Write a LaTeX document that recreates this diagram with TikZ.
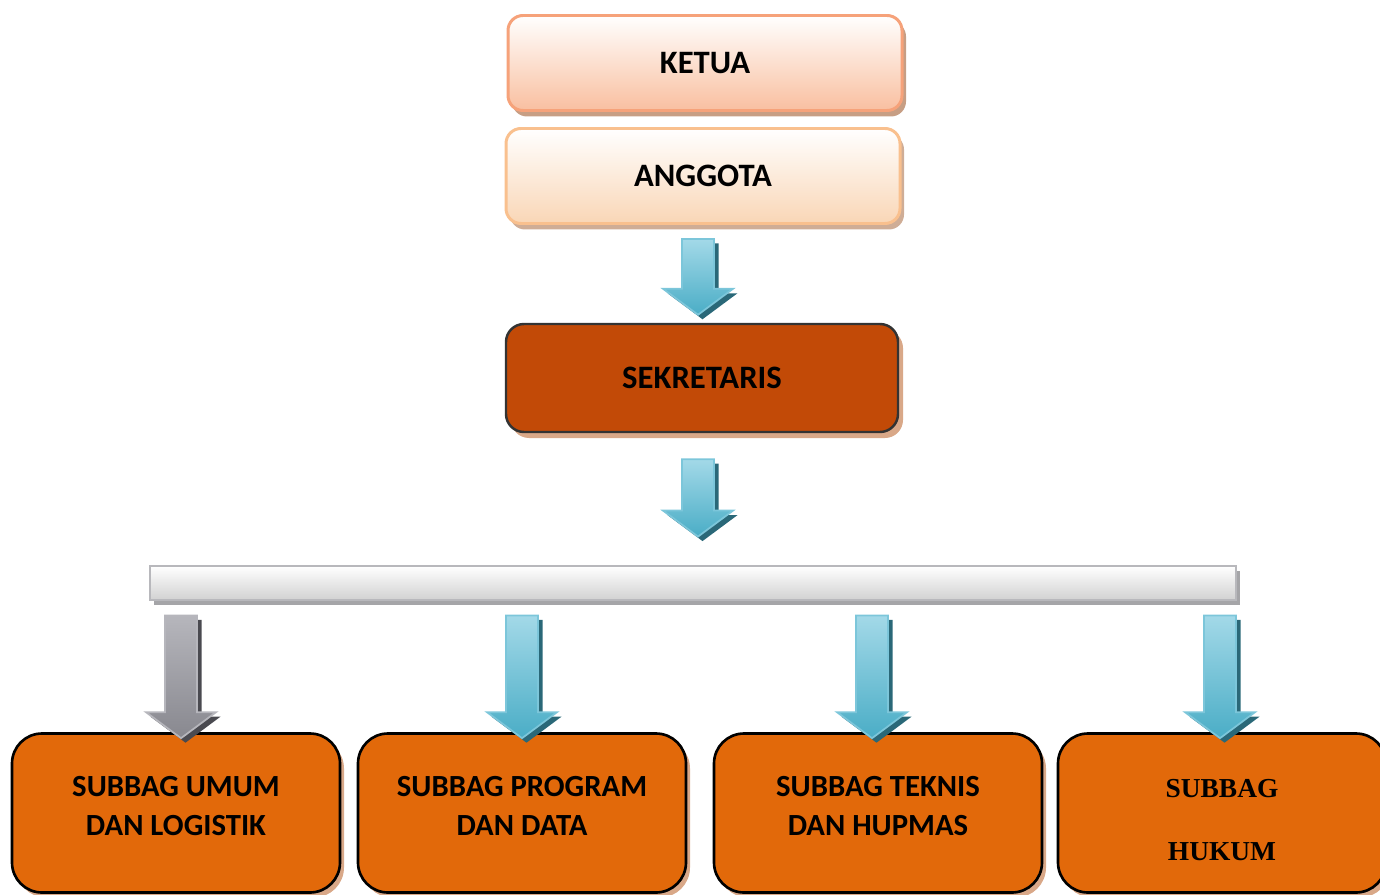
\documentclass[tikz,border=0pt]{standalone}
\usepackage{fontspec}
\setmainfont{Carlito}
\newfontfamily\hukumfont{Liberation Serif}
\usetikzlibrary{shadows,calc}

\definecolor{peachtop}{HTML}{F9BFA0}
\definecolor{peachline}{HTML}{F6A27A}
\definecolor{creamtop}{HTML}{F9D6B6}
\definecolor{creamline}{HTML}{F9C08E}
\definecolor{boxshadow}{HTML}{C79E84}
\definecolor{rust}{HTML}{C24A07}
\definecolor{orangebox}{HTML}{E2690A}
\definecolor{orangeshadow}{HTML}{D9A888}
\definecolor{barline}{HTML}{B8B8BC}
\definecolor{barshadow}{HTML}{A5A5A8}
\definecolor{bluetop}{HTML}{A3D9E8}
\definecolor{bluebot}{HTML}{4AADC6}
\definecolor{blueline}{HTML}{7CC6DA}
\definecolor{blueshadow}{HTML}{2A6878}
\definecolor{greytop}{HTML}{B6B6BC}
\definecolor{greybot}{HTML}{88888F}
\definecolor{greyshadow}{HTML}{4A4A50}

\tikzstyle{topbox}=[rectangle, rounded corners=0.15cm, minimum width=3.94cm, minimum height=0.95cm, line width=0.85pt, font=\fontsize{9.3}{11}\selectfont\bfseries]
\tikzstyle{ketuabox}=[topbox, draw=peachline, top color=white, bottom color=peachtop, drop shadow={shadow xshift=0.04cm, shadow yshift=-0.06cm, fill=boxshadow, opacity=1}]
\tikzstyle{anggotabox}=[topbox, draw=creamline, top color=white, bottom color=creamtop, drop shadow={shadow xshift=0.04cm, shadow yshift=-0.06cm, fill=boxshadow!85, opacity=1}]
\tikzstyle{sekbox}=[rectangle, rounded corners=0.18cm, minimum width=3.92cm, minimum height=1.08cm, fill=rust, draw=black!80, line width=0.7pt, font=\fontsize{9.3}{11}\selectfont\bfseries, drop shadow={shadow xshift=0.05cm, shadow yshift=-0.06cm, fill=orangeshadow, opacity=1}]
\tikzstyle{barbox}=[rectangle, minimum width=10.86cm, minimum height=0.34cm, draw=barline, line width=0.8pt, top color=white, bottom color=black!18, drop shadow={shadow xshift=0.04cm, shadow yshift=-0.05cm, fill=barshadow, opacity=1}]
\tikzstyle{subbox}=[rectangle, rounded corners=0.3cm, minimum width=3.28cm, minimum height=1.59cm, fill=orangebox, draw=black, line width=0.75pt, align=center, font=\fontsize{8.75}{11}\selectfont\bfseries, drop shadow={shadow xshift=0.04cm, shadow yshift=-0.05cm, fill=orangeshadow, opacity=1}]
\tikzstyle{bluearrow}=[shade, top color=bluetop, bottom color=bluebot, draw=blueline, line width=0.5pt]
\tikzstyle{bluearrowshadow}=[fill=blueshadow]
\tikzstyle{greyarrow}=[shade, top color=greytop, bottom color=greybot, draw=greytop, line width=0.5pt]
\tikzstyle{greyarrowshadow}=[fill=greyshadow]

% block arrow from #2 (top of the shaft) down to #3 (the tip), shadow first
\newcommand{\arrowoutline}[5]{%
  \path[#1] let \p1=(#2), \p2=(#3) in
    (\x1-0.16cm+#4,\y1+#5) -- (\x1+0.16cm+#4,\y1+#5) -- (\x1+0.16cm+#4,\y2+0.26cm+#5)
    -- (\x1+0.35cm+#4,\y2+0.26cm+#5) -- (\x1+#4,\y2+#5) -- (\x1-0.35cm+#4,\y2+0.26cm+#5)
    -- (\x1-0.16cm+#4,\y2+0.26cm+#5) -- cycle;}
\newcommand{\blockarrow}[3]{%
  \arrowoutline{#1shadow}{#2}{#3}{0.045cm}{-0.045cm}
  \arrowoutline{#1}{#2}{#3}{0cm}{0cm}}

\begin{document}
\begin{tikzpicture}
    \useasboundingbox (0,0) rectangle (13.8,-8.95);
    \clip (0,0) rectangle (13.8,-8.95);

    \node[ketuabox] (ketua) at (7.05,-0.63) {KETUA};
    \node[anggotabox] (anggota) at (7.03,-1.76) {ANGGOTA};
    \node[sekbox] (sekretaris) at (7.02,-3.78) {SEKRETARIS};
    \node[barbox] (bar) at (6.93,-5.83) {};

    \foreach \x/\name/\txt in {1.76/sub1/{SUBBAG UMUM\\DAN LOGISTIK}, 5.22/sub2/{SUBBAG PROGRAM\\DAN DATA}, 8.78/sub3/{SUBBAG TEKNIS\\DAN HUPMAS}}
        \node[subbox] (\name) at (\x,-8.13) {\txt\\[-0.25cm]\mbox{}};
    \node[subbox, font=\fontsize{7.8}{17.8}\selectfont\hukumfont\bfseries] (sub4) at (12.22,-8.13) {\mbox{}\\[-0.3cm]SUBBAG\\HUKUM};

    % arrows
    \coordinate (a1s) at ([xshift=-0.05cm, yshift=-0.14cm]anggota.south);
    \coordinate (a1e) at ([xshift=-0.05cm, yshift=0.08cm]sekretaris.north);
    \coordinate (a2s) at ([xshift=-0.04cm, yshift=-0.26cm]sekretaris.south);
    \coordinate (a2e) at ([yshift=0.28cm]bar.north -| a2s);
    \blockarrow{bluearrow}{a1s}{a1e}
    \blockarrow{bluearrow}{a2s}{a2e}

    \foreach \name/\dx/\style in {sub1/0.05/greyarrow, sub2/0/bluearrow, sub3/-0.06/bluearrow, sub4/-0.02/bluearrow} {
        \path (bar.south -| \name.north) ++(\dx,-0.14) coordinate (\name s);
        \path (\name.north) ++(\dx,-0.06) coordinate (\name e);
        \blockarrow{\style}{\name s}{\name e}
    }
\end{tikzpicture}
\end{document}
